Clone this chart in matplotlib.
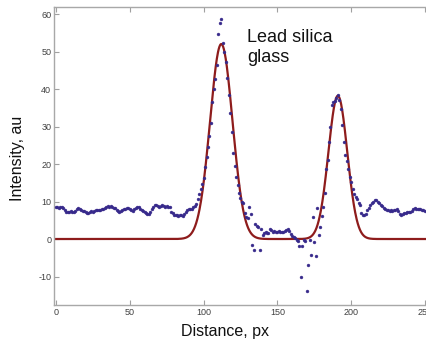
import matplotlib
matplotlib.use("Agg")
import matplotlib.pyplot as plt
import numpy as np

plt.rcParams['font.family'] = ['Liberation Sans', 'DejaVu Sans']
plt.rcParams['axes.unicode_minus'] = False

# measured intensity, one point per pixel position 0..250
distance = list(range(0, 251))
intensity = [
    8.5, 8.6, 8.4, 8.6, 8.5, 8.2, 7.7, 7.3, 7.2, 7.3,
    7.4, 7.2, 7.3, 7.6, 8.0, 8.3, 8.0, 7.7, 7.6, 7.4,
    7.1, 7.0, 7.0, 7.2, 7.4, 7.3, 7.5, 7.7, 7.8, 7.7,
    7.8, 7.9, 8.1, 8.4, 8.6, 8.7, 8.6, 8.7, 8.5, 8.3,
    8.2, 7.8, 7.4, 7.3, 7.5, 7.8, 7.9, 8.0, 8.2, 8.3,
    8.1, 7.7, 7.6, 7.9, 8.3, 8.6, 8.5, 8.0, 7.7, 7.6,
    7.2, 6.9, 6.7, 6.8, 7.3, 7.9, 8.5, 9.1, 9.2, 8.8,
    8.5, 8.9, 9.2, 8.9, 8.6, 8.7, 8.6, 8.6, 7.3, 6.9,
    6.5, 6.3, 6.4, 6.2, 6.5, 6.3, 6.1, 6.6, 7.3, 7.8,
    7.9, 8.0, 8.1, 8.5, 8.8, 9.4, 10.6, 12.0, 13.4, 14.6,
    16.3, 19.2, 21.8, 24.6, 27.5, 31.0, 36.5, 40.0, 42.8, 46.5,
    54.6, 57.6, 58.7, 52.4, 50.0, 47.2, 43.0, 38.5, 33.5, 28.5,
    23.0, 19.5, 16.5, 14.5, 12.2, 11.0, 10.0, 9.5, 6.9, 6.0,
    5.6, 8.6, 6.6, -1.6, -3.0, 4.0, 3.6, 3.2, -2.8, 2.6,
    1.2, 1.5, 1.8, 1.6, 1.5, 2.8, 2.4, 2.0, 2.1, 1.8,
    2.0, 2.2, 2.0, 1.9, 1.8, 2.1, 2.4, 2.7, 2.2, 1.3,
    0.9, 0.5, 0.2, -0.2, -0.4, -1.9, -10.2, -1.9, -0.3, -0.6,
    -13.9, -6.9, -0.3, -4.3, 5.8, -0.7, -4.5, 8.2, 1.1, 3.3,
    6.1, 8.6, 12.2, 18.8, 21.0, 25.9, 30.0, 35.7, 36.5, 36.8,
    37.5, 38.4, 37.0, 34.6, 30.4, 25.9, 22.4, 20.7, 18.8, 16.5,
    15.3, 13.3, 12.0, 11.2, 10.8, 9.5, 9.1, 7.0, 6.4, 6.4,
    6.6, 7.7, 8.3, 9.1, 9.6, 10.0, 10.3, 10.4, 10.0, 9.5,
    9.1, 8.7, 8.3, 7.9, 7.7, 7.8, 7.6, 7.7, 7.6, 7.7,
    7.8, 7.9, 7.6, 6.7, 6.4, 6.7, 6.9, 7.0, 7.1, 7.2,
    7.3, 7.6, 8.0, 8.2, 8.0, 7.9, 7.9, 8.0, 7.8, 7.7,
    7.6,
]

# Gaussian fit parameters (amplitude, centre, sigma) for the two peaks
fit_amplitudes = [52.0, 38.2]
fit_centres = [112.0, 191.0]
fit_sigmas = [7.6, 6.4]

xticks = [0, 50, 100, 150, 200, 250]
yticks = [-10, 0, 10, 20, 30, 40, 50, 60]

fig = plt.figure(figsize=(4.26, 3.44), dpi=100)
ax = fig.add_axes([54/426, 39/344, (432-54)/426, (305-7.3)/344])

xf = np.linspace(0, 250, 1001)
yf = np.zeros_like(xf)
for a, c, s in zip(fit_amplitudes, fit_centres, fit_sigmas):
    yf += a * np.exp(-(xf - c) ** 2 / (2 * s ** 2))

ax.plot(distance, intensity, 'o', ms=2.1, color='#34298a', mec='#3d2c8e', mew=0.3, zorder=3)
ax.plot(xf, yf, '-', color='#8e1c1c', lw=1.6, zorder=2)

ax.set_xlim(-1.36, 254.8)
ax.set_ylim(-17.6, 61.8)
ax.set_xticks(xticks)
ax.set_yticks(yticks)
ax.tick_params(direction='in', length=3.5, width=0.8, colors='#a0a0a0',
               labelcolor='#404040', labelsize=6.5, top=True, right=True, pad=2)
for sp in ax.spines.values():
    sp.set_color('#a8a8a8')
    sp.set_linewidth(1.0)

ax.text(129.3, 56.0, 'Lead silica\nglass', fontsize=13, va='top', ha='left',
        color='#111111', linespacing=1.22)

fig.text(225/426, 1 - 336/344, 'Distance, px', fontsize=11.5, ha='center', va='baseline', color='#111111')
fig.text(18/426, 1 - 158/344, 'Intensity, au', fontsize=11.5, ha='center', va='center',
         rotation=90, color='#111111')

fig.savefig('out.png', dpi=100)
